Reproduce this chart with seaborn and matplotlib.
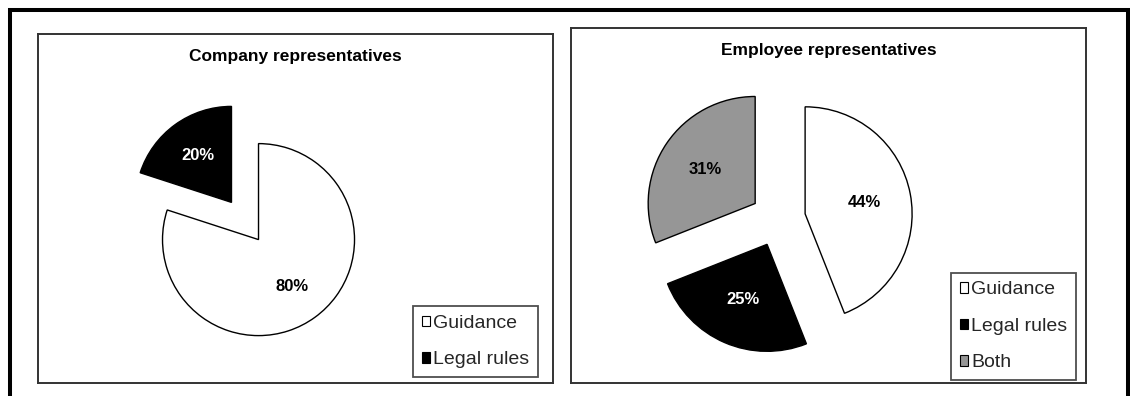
import seaborn as sns
from matplotlib import pyplot as plt
from matplotlib.lines import Line2D

# Data
company_labels = ['Guidance', 'Legal rules']
company_values = [80, 20]
employee_labels = ['Guidance', 'Legal rules', 'Both']
employee_values = [44, 25, 31]

slice_colors = ['#ffffff', '#000000', '#969696']
pct_colors = ['black', 'white', 'black']

sns.set_theme(style="white")
plt.rcParams['font.family'] = ['Liberation Sans', 'DejaVu Sans']

W, H = 1130, 396
fig = plt.figure(figsize=(W / 100, H / 100), dpi=100)
fig.patch.set_facecolor('white')

# outer thick frame (left, top, right)
fx = [10 / W, 10 / W, 1128 / W, 1128 / W]
fy = [0, 1 - 10 / H, 1 - 10 / H, 0]
fig.add_artist(Line2D(fx, fy, transform=fig.transFigure, color='black', lw=2.9,
                      solid_joinstyle='miter'))


def panel(x0, y0, x1, y1):
    ax = fig.add_axes([x0 / W, 1 - y1 / H, (x1 - x0) / W, (y1 - y0) / H])
    return ax, (x0, x1, H - y1, H - y0)


def draw_pie(ax, lims, values, labels, title, center, radius, explode, pctdist, title_y, legend_corner):
    n = len(values)
    # explode is in data units here (pixels), not a fraction of the radius
    wedges, texts, autotexts = ax.pie(
        values, colors=slice_colors[:n], explode=[explode] * n,
        startangle=90, counterclock=False, center=center, radius=radius,
        autopct='%.0f%%', pctdistance=pctdist,
        wedgeprops=dict(edgecolor='black', linewidth=1.0),
        textprops=dict(fontsize=12, fontweight='bold'))
    for t, c in zip(autotexts, pct_colors):
        t.set_color(c)
    ax.set_aspect('auto')
    ax.set_xlim(lims[0], lims[1])
    ax.set_ylim(lims[2], lims[3])
    ax.set_frame_on(True)
    for s in ax.spines.values():
        s.set_visible(True)
        s.set_color('#333333')
        s.set_linewidth(1.4)
    ax.set_xticks([])
    ax.set_yticks([])
    ax.text((lims[0] + lims[1]) / 2, title_y, title, ha='center', va='center',
            fontsize=12.5, fontweight='bold', color='black')
    leg = ax.legend(wedges, labels, loc='lower right', bbox_to_anchor=legend_corner,
                    bbox_transform=ax.transData, borderaxespad=0, fontsize=14,
                    handlelength=0.45, handleheight=0.45, handletextpad=0.14,
                    labelspacing=1.0, borderpad=0.45, frameon=True, fancybox=False)
    frame = leg.get_frame()
    frame.set_edgecolor('#222222')
    frame.set_linewidth(1.3)
    for h in leg.legend_handles:
        h.set_edgecolor('black')
        h.set_linewidth(0.8)


ax1, lims1 = panel(37.7, 34.3, 552.7, 382.7)
draw_pie(ax1, lims1, company_values, company_labels, 'Company representatives',
         center=(245, H - 221), radius=96, explode=23, pctdist=0.6,
         title_y=H - 57, legend_corner=(538, H - 377))

ax2, lims2 = panel(571, 28.3, 1086, 382.7)
draw_pie(ax2, lims2, employee_values, employee_labels, 'Employee representatives',
         center=(778, H - 219), radius=107, explode=27.6, pctdist=0.56,
         title_y=H - 50, legend_corner=(1076, H - 380))

fig.savefig('out.png', dpi=100, facecolor='white')
